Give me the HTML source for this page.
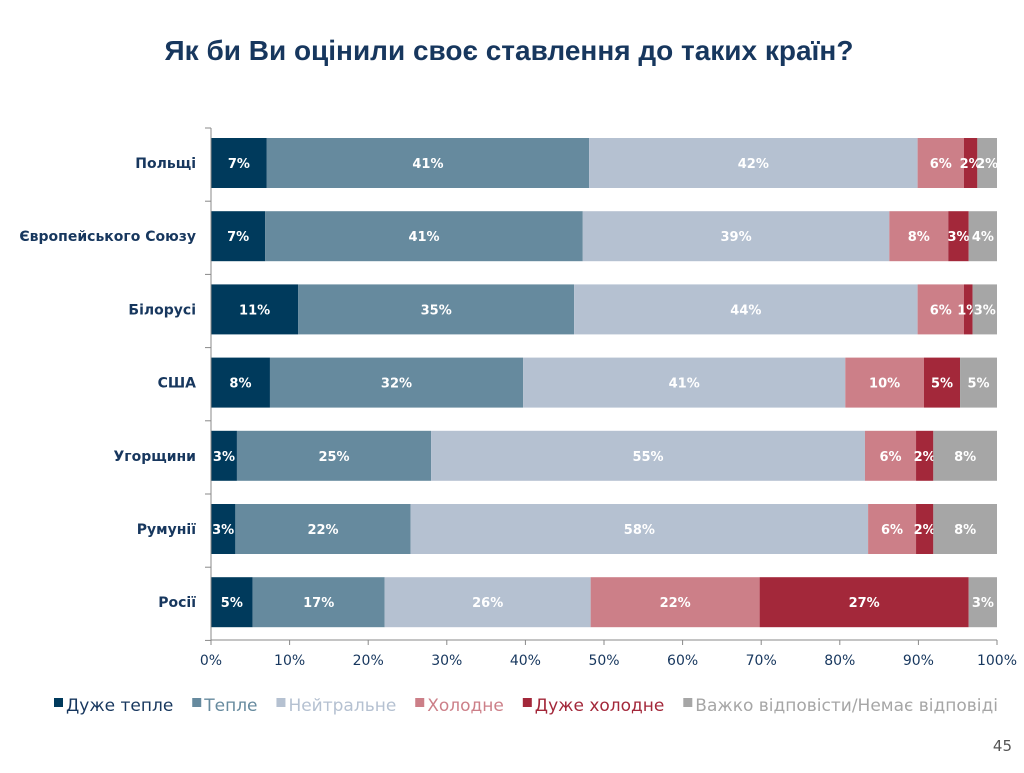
<!DOCTYPE html>
<html><head><meta charset="utf-8"><style>
body{margin:0;background:#fff;width:1024px;height:768px;overflow:hidden;font-family:"Liberation Sans","DejaVu Sans",sans-serif}
</style></head><body>
<svg width="1024" height="768" id="svg" font-family="DejaVu Sans, Liberation Sans, sans-serif">
<text x="509" y="60" text-anchor="middle" font-size="28" font-weight="bold" fill="#17375e" font-family="Liberation Sans, sans-serif">Як би Ви оцінили своє ставлення до таких країн?</text>
<text x="1012" y="751" text-anchor="end" font-size="15" fill="#555">45</text>
</svg>
<script>
const categories=["Польщі","Європейського Союзу","Білорусі","США","Угорщини","Румунії","Росії"];
const seriesNames=["Дуже тепле","Тепле","Нейтральне","Холодне","Дуже холодне","Важко відповісти/Немає відповіді"];
const veryWarm=[7.1,6.9,11.1,7.5,3.3,3.1,5.3];
const warm=[41.0,40.4,35.1,32.2,24.7,22.3,16.8];
const neutral=[41.8,39.0,43.7,41.0,55.2,58.2,26.2];
const cold=[5.9,7.5,5.9,10.0,6.5,6.1,21.5];
const veryCold=[1.7,2.6,1.1,4.6,2.2,2.2,26.6];
const noAnswer=[2.5,3.6,3.1,4.7,8.1,8.1,3.6];
const labelsVeryWarm=["7%","7%","11%","8%","3%","3%","5%"];
const labelsWarm=["41%","41%","35%","32%","25%","22%","17%"];
const labelsNeutral=["42%","39%","44%","41%","55%","58%","26%"];
const labelsCold=["6%","8%","6%","10%","6%","6%","22%"];
const labelsVeryCold=["2%","3%","1%","5%","2%","2%","27%"];
const labelsNoAnswer=["2%","4%","3%","5%","8%","8%","3%"];
const ticks=[0,10,20,30,40,50,60,70,80,90,100];
const colors=["#003a5c","#668a9e","#b5c1d1","#cc7f88","#a3283a","#a6a6a6"];
const series=[veryWarm,warm,neutral,cold,veryCold,noAnswer];
const labels=[labelsVeryWarm,labelsWarm,labelsNeutral,labelsCold,labelsVeryCold,labelsNoAnswer];
const svg=document.getElementById('svg');const NS="http://www.w3.org/2000/svg";
const x=v=>211+v*7.86;const yc=i=>163+i*73.2;const plotTop=128,plotBot=640;
function mk(t,a,p){const e=document.createElementNS(NS,t);for(const k in a)e.setAttribute(k,a[k]);(p||svg).appendChild(e);return e;}
categories.forEach((c,i)=>{
 let acc=0;
 series.forEach((s,j)=>{
  const r=mk('rect',{x:x(acc),y:yc(i)-25,width:x(acc+s[i])-x(acc),height:50,fill:colors[j]});
  
  
  const t=mk('text',{x:(x(acc)+x(acc+s[i]))/2,y:yc(i)+5,'text-anchor':'middle','font-size':13,'font-weight':'bold',fill:'#fff'});
  t.textContent=labels[j][i];
  
  
  acc+=s[i];
 });
 const l=mk('text',{x:196,y:yc(i)+5,'text-anchor':'end','font-size':14,'font-weight':'bold',fill:'#17375e'});
 l.textContent=c;
 
 
});
const ax=mk('line',{x1:211,y1:plotTop,x2:211,y2:plotBot,stroke:'#888'});


const xa=mk('line',{x1:211,y1:plotBot,x2:997,y2:plotBot,stroke:'#888'});


for(let i=0;i<=7;i++){mk('line',{x1:205,x2:211,y1:plotTop+i*73.2,y2:plotTop+i*73.2,stroke:'#888'});}
ticks.forEach(v=>{
 mk('line',{x1:x(v),x2:x(v),y1:plotBot,y2:plotBot+5,stroke:'#888'});
 const t=mk('text',{x:x(v),y:665,'text-anchor':'middle','font-size':14,fill:'#17375e'});
 t.textContent=v+'%';
 
 
});
const legColors=["#17375e","#668a9e","#b5c1d1","#cc7f88","#a3283a","#a6a6a6"];
const texts=[];let total=0;
seriesNames.forEach((n,j)=>{
 const g=mk('g',{});
 
 
 const rc=mk('rect',{y:698,width:9,height:9,fill:colors[j]},g);
 const t=mk('text',{y:711,'font-size':17,fill:legColors[j]},g);
 t.textContent=n;
 const w=t.getComputedTextLength();total+=w+12;
 texts.push([rc,t,w]);
});
const gap=Math.max(4,(998-54-total)/5);
let lx=54;
texts.forEach(([rc,t,w])=>{rc.setAttribute('x',lx);t.setAttribute('x',lx+12);lx+=12+w+gap;});
</script>
</body></html>
